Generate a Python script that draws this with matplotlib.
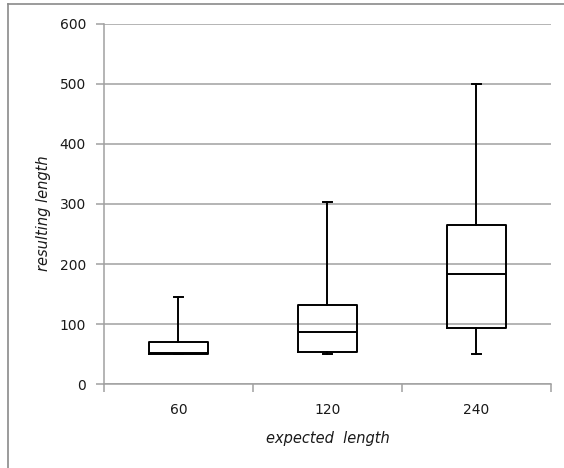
import matplotlib.pyplot as plt
from matplotlib.lines import Line2D

# box plot summary per expected length
categories = ["60", "120", "240"]
whisker_low = [50, 50, 50]
q1 = [50, 54, 94]
median = [51, 87, 183]
q3 = [70, 131, 265]
whisker_high = [145, 304, 500]

y_ticks = [0, 100, 200, 300, 400, 500, 600]

GRID_COLOR = "#a0a0a0"
TEXT_COLOR = "#1a1a1a"

stats = []
for i, name in enumerate(categories):
    stats.append({
        "label": name,
        "whislo": whisker_low[i],
        "q1": q1[i],
        "med": median[i],
        "q3": q3[i],
        "whishi": whisker_high[i],
        "fliers": [],
    })

fig = plt.figure(figsize=(5.64, 4.68), dpi=100)
ax = fig.add_axes([104 / 564, 1 - 384 / 468, 447 / 564, 360 / 468])

positions = list(range(1, len(categories) + 1))
line_style = dict(color="black", linewidth=1.4)
ax.bxp(stats, positions=positions, widths=0.39, capwidths=0.055,
       showfliers=False, patch_artist=False,
       boxprops=line_style, medianprops=line_style,
       whiskerprops=line_style, capprops=line_style)

ax.set_ylim(0, 600)
ax.set_xlim(0.5, len(categories) + 0.5)
ax.set_yticks(y_ticks)
ax.yaxis.grid(True, color=GRID_COLOR, linewidth=1.1)
ax.set_axisbelow(True)

# category boundaries get tick marks, labels sit at centers
ax.set_xticks([p - 0.5 for p in positions] + [positions[-1] + 0.5])
ax.set_xticklabels([])
ax.set_xticks(positions, minor=True)
ax.set_xticklabels(categories, minor=True)
ax.tick_params(axis="x", which="minor", length=0, pad=14,
               labelsize=10, labelcolor=TEXT_COLOR)
ax.tick_params(axis="x", which="major", length=6, width=1.1, color=GRID_COLOR)
ax.tick_params(axis="y", length=6, width=1.1, color=GRID_COLOR, pad=7,
               labelsize=10, labelcolor=TEXT_COLOR)

for side in ["top", "right"]:
    ax.spines[side].set_visible(False)
for side in ["left", "bottom"]:
    ax.spines[side].set_color(GRID_COLOR)
    ax.spines[side].set_linewidth(1.1)

ax.set_xlabel("expected  length", fontstyle="italic", fontsize=10.5,
              color=TEXT_COLOR, labelpad=10)
ax.set_ylabel("resulting length", fontstyle="italic", fontsize=10.5,
              color=TEXT_COLOR)
ax.yaxis.set_label_coords(-0.118, 0.475)

# chart frame border (top and left edge visible in the original)
fig.add_artist(Line2D([8 / 564, 8 / 564], [0, 1 - 3.5 / 468],
                      transform=fig.transFigure, color="#8a8a8a", linewidth=1.2))
fig.add_artist(Line2D([8 / 564, 1], [1 - 3.5 / 468, 1 - 3.5 / 468],
                      transform=fig.transFigure, color="#8a8a8a", linewidth=1.2))

fig.savefig("out.png", dpi=100)
